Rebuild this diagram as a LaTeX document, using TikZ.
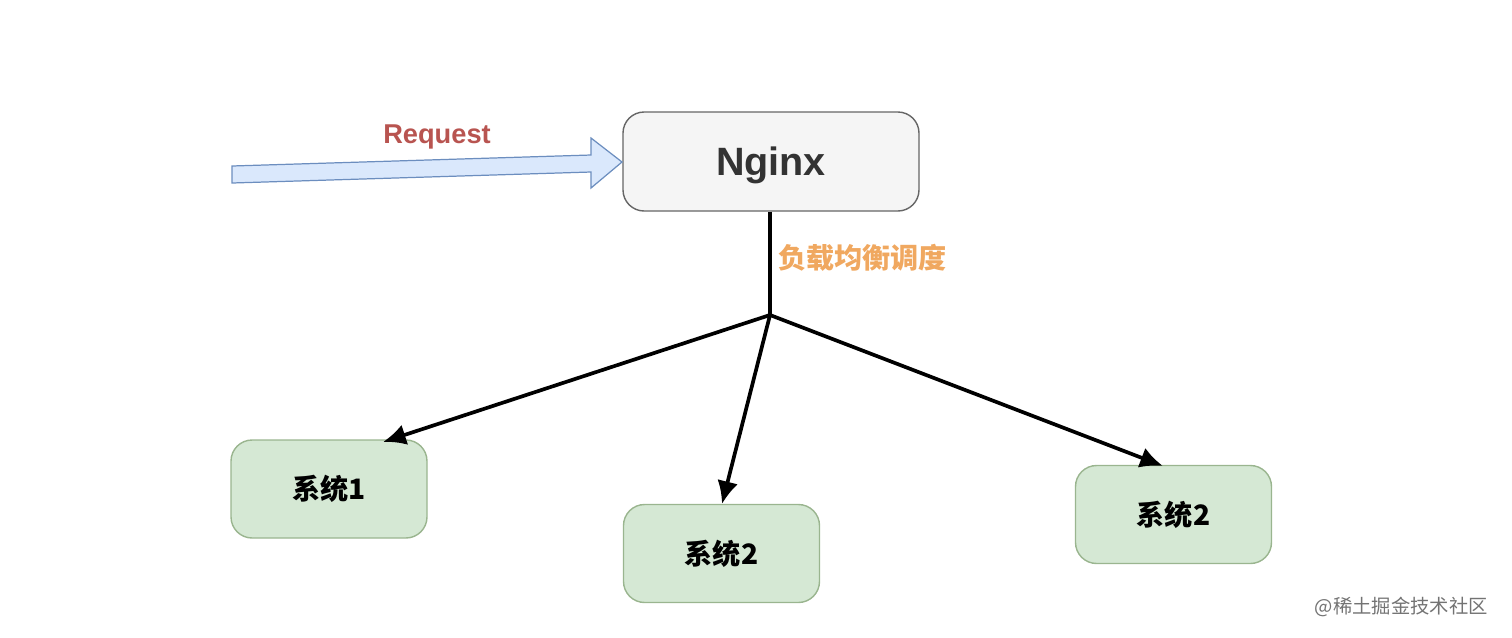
\documentclass[tikz,border=0pt]{standalone}
\usepackage{fontspec}
\setmainfont{Liberation Sans}
\newfontfamily\cjk{Noto Sans CJK SC}
\usetikzlibrary{arrows.meta}
\definecolor{nfill}{HTML}{F5F5F5}
\definecolor{nline}{HTML}{666666}
\definecolor{gfill}{HTML}{D5E8D4}
\definecolor{gline}{HTML}{9AB58F}
\definecolor{bfill}{HTML}{DAE8FC}
\definecolor{bline}{HTML}{6C8EBF}
\definecolor{reqred}{HTML}{B85450}
\definecolor{lborange}{HTML}{F0A860}
\tikzset{
  sysbox/.style={draw=gline, fill=gfill, rounded corners=12, line width=0.8pt, minimum width=196*0.02cm, minimum height=98*0.02cm, font=\cjk\bfseries\fontsize{16}{18}\selectfont, inner sep=0pt},
  conn/.style={line width=2.1pt, -{Latex[length=13pt,width=12pt]}},
}
\begin{document}
\begin{tikzpicture}[x=0.02cm,y=-0.02cm]
\useasboundingbox (0,0) rectangle (1512,637);
\node[draw=nline, fill=nfill, rounded corners=12, line width=0.8pt, minimum width=296*0.02cm, minimum height=99*0.02cm, inner sep=0pt] (nginx) at (771,161.5) {};
\node[font=\bfseries\fontsize{22.5}{26}\selectfont, text=black!80] (nginxtext) at (771,165) {Nginx};
% request block arrow
\draw[draw=bline, fill=bfill, line width=0.7pt] (232,166) -- (591,155) -- (591,138) -- (622,162) -- (591,188) -- (591,172) -- (232,183) -- cycle;
\node[font=\bfseries\fontsize{15.5}{18}\selectfont, text=reqred] (req) at (437,137) {Request};
\node[sysbox] (s1) at (329,489) {系统1};
\node[sysbox] (s2) at (721.5,553.5) {系统2};
\node[sysbox] (s3) at (1173.5,514.5) {系统2};
\coordinate (j) at (770,315);
\draw[line width=2.1pt] (nginx.south -| j) -- (j);
\node[font=\cjk\bfseries\fontsize{16}{18}\selectfont, text=lborange, anchor=west] (lb) at (772,258) {负载均衡调度};
\draw[conn] (j) -- (383,442);
\draw[conn] (j) -- (722,504);
\draw[conn] (j) -- (1163,466);
\node[font=\cjk\fontsize{11}{13}\selectfont, text=black!55, anchor=east] (wm) at (1494,607) {@稀土掘金技术社区};
\end{tikzpicture}
\end{document}
